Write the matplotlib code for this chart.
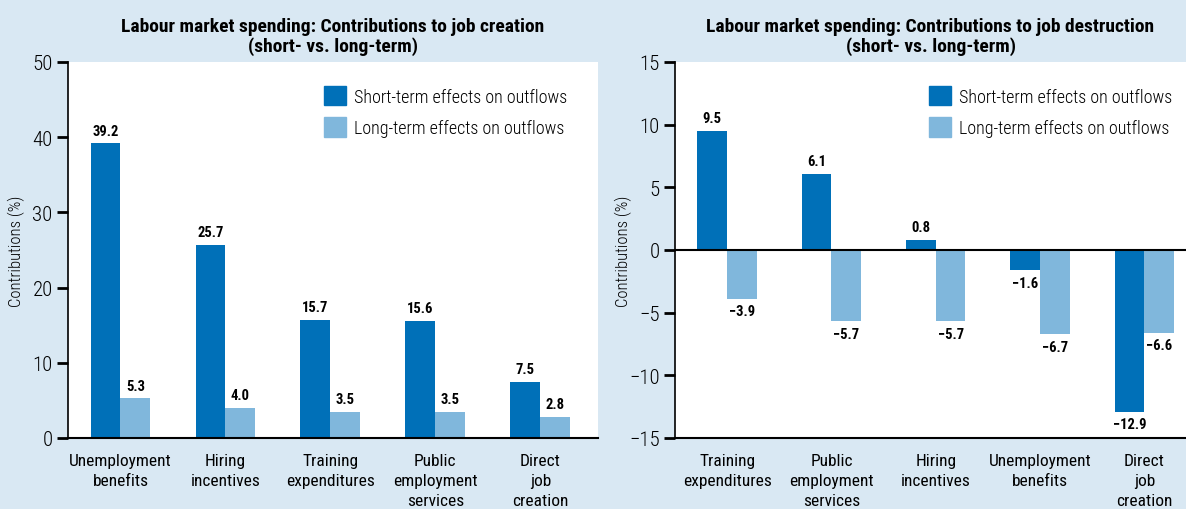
import matplotlib.pyplot as plt
from matplotlib.patches import Patch
import numpy as np

# данные левого графика (создание рабочих мест)
cats_creation = ["Unemployment\nbenefits", "Hiring\nincentives", "Training\nexpenditures",
                 "Public\nemployment\nservices", "Direct\njob\ncreation"]
short_creation = [39.2, 25.7, 15.7, 15.6, 7.5]
long_creation = [5.3, 4.0, 3.5, 3.5, 2.8]

# данные правого графика (уничтожение рабочих мест)
cats_destruction = ["Training\nexpenditures", "Public\nemployment\nservices", "Hiring\nincentives",
                    "Unemployment\nbenefits", "Direct\njob\ncreation"]
short_destruction = [9.5, 6.1, 0.8, -1.6, -12.9]
long_destruction = [-3.9, -5.7, -5.7, -6.7, -6.6]

DARK = "#0070b8"
LIGHT = "#80b7dc"
BG = "#d9e8f3"
FONT = ["Roboto Condensed", "Archivo Narrow", "DejaVu Sans"]

plt.rcParams["font.family"] = FONT


def fmt(v):
    s = f"{abs(v):.1f}"
    return "\u2212" + s if v < 0 else s


def draw(ax, cats, short, long_, title, ylim, yticks, xright, leg_pos):
    x = np.arange(len(cats))
    w = 0.285
    ax.bar(x - w / 2, short, w, color=DARK)
    ax.bar(x + w / 2, long_, w, color=LIGHT)

    # подписи значений над/под столбцами
    for xs, vals in ((x - w / 2, short), (x + w / 2, long_)):
        for xi, v in zip(xs, vals):
            off = 4 if v >= 0 else -4
            ax.annotate(fmt(v), (xi, v), xytext=(0, off), textcoords="offset points",
                        ha="center", va="bottom" if v >= 0 else "top",
                        fontsize=10.5, fontweight="bold")

    ax.set_xlim(-0.5, xright)
    ax.set_ylim(*ylim)
    ax.set_yticks(yticks)
    ax.set_yticklabels([fmt(t).replace(".0", "") for t in yticks],
                       fontsize=15, fontweight="light")
    ax.set_xticks(x)
    ax.set_xticklabels(cats, fontsize=12.5, linespacing=1.4)
    ax.tick_params(axis="x", length=0, pad=11)
    ax.tick_params(axis="y", length=8, width=2, direction="out", pad=3)
    for s in ("top", "right"):
        ax.spines[s].set_visible(False)
    ax.spines["left"].set_linewidth(1.2)
    ax.spines["bottom"].set_linewidth(1.5)
    ax.set_facecolor("white")
    ax.set_ylabel("Contributions (%)", fontsize=12, fontweight="light")
    ax.set_title(title, fontsize=14, fontweight="bold", pad=8, linespacing=1.1)

    handles = [Patch(color=DARK, label="Short-term effects on outflows"),
               Patch(color=LIGHT, label="Long-term effects on outflows")]
    ax.legend(handles=handles, loc="upper left", bbox_to_anchor=leg_pos, frameon=False,
              borderaxespad=0, borderpad=0,
              prop={"size": 13, "weight": "light"}, handlelength=1.2, handleheight=1.25,
              handletextpad=0.45, labelspacing=0.65)


fig = plt.figure(figsize=(11.86, 5.10), dpi=100, facecolor=BG)
ax1 = fig.add_axes([68 / 1186, 71 / 510, 530 / 1186, 376 / 510])
ax2 = fig.add_axes([675 / 1186, 71 / 510, 511 / 1186, 376 / 510])

draw(ax1, cats_creation, short_creation, long_creation,
     "Labour market spending: Contributions to job creation\n(short- vs. long-term)",
     (0, 50), [0, 10, 20, 30, 40, 50], 4.55, (0.483, 0.936))
draw(ax2, cats_destruction, short_destruction, long_destruction,
     "Labour market spending: Contributions to job destruction\n(short- vs. long-term)",
     (-15, 15), [-15, -10, -5, 0, 5, 10, 15], 4.4, (0.497, 0.936))
ax2.axhline(0, color="black", linewidth=1.5)

ax1.yaxis.set_label_coords(-0.081, 0.5)
ax2.yaxis.set_label_coords(-0.084, 0.5)

fig.savefig("out.png", dpi=100, facecolor=BG)
